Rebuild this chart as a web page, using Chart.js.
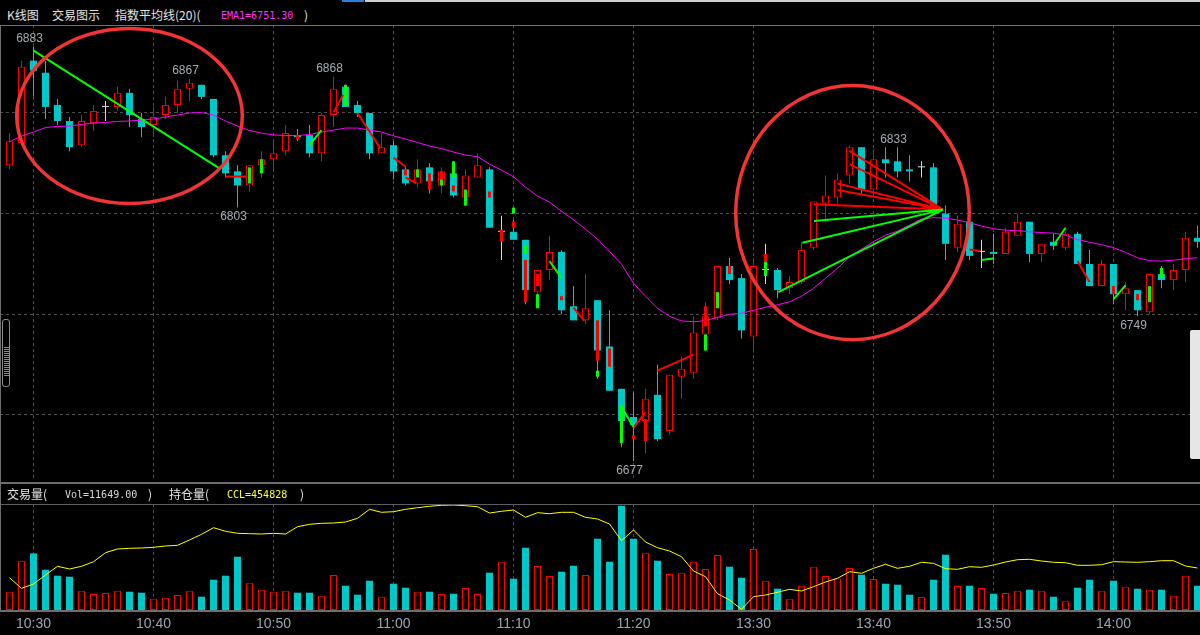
<!DOCTYPE html>
<html>
<head>
<meta charset="utf-8">
<script src="https://cdn.jsdelivr.net/npm/chart.js@4.4.0/dist/chart.umd.min.js"></script>
<style>
  body { margin: 0; background: #000; width: 1200px; height: 635px; overflow: hidden; position: relative; font-family: "Noto Sans CJK SC", sans-serif; }
  .t { position: absolute; font-size: 12px; color: #e4e4e4; line-height: 14px; white-space: pre; }
  .m { font-family: "DejaVu Sans Mono", monospace; font-size: 10px; }
  .ln { position: absolute; left: 0; width: 1200px; }
  canvas { position: absolute; left: 0; }
</style>
</head>
<body>
<canvas id="main" width="1200" height="456" style="top:25px"></canvas>
<canvas id="vol" width="1200" height="131" style="top:504px"></canvas>

<div class="ln" style="top:0;left:365px;width:835px;height:2px;background:#cfcfcf"></div>
<div class="ln" style="top:0;left:342px;width:22px;height:2px;background:#2a7fd8"></div>
<div class="ln" style="top:25px;height:1px;background:#6e6e6e"></div>
<div class="ln" style="top:482px;height:2px;background:#6e6e6e"></div>
<div class="ln" style="top:504px;height:1px;background:#5e5e5e"></div>
<div class="ln" style="top:610px;height:2px;background:#6e6e6e"></div>
<div style="position:absolute;left:0;top:25px;width:1px;height:587px;background:#6e6e6e"></div>
<div style="position:absolute;left:2px;top:319px;width:6px;height:66px;border:1px solid #8a8a8a;border-radius:3px;background:#000"></div>
<div style="position:absolute;left:4px;top:347px;width:5px;height:30px;background:repeating-linear-gradient(#19d24a 0 1px,#000 1px 2px)"></div>
<div style="position:absolute;left:1190px;top:330px;width:12px;height:129px;background:#e6e6e6;border-radius:2px"></div>

<div class="t" style="left:7px;top:8px">K线图</div>
<div class="t" style="left:52px;top:8px">交易图示</div>
<div class="t" style="left:115px;top:8px">指数平均线(20)(</div>
<div class="t m" style="left:221px;top:9px;color:#ff30ff">EMA1=6751.30</div>
<div class="t" style="left:304px;top:8px">)</div>

<div class="t" style="left:7px;top:487px">交易量(</div>
<div class="t m" style="left:65px;top:488px;color:#d8d8d8">Vol=11649.00</div>
<div class="t" style="left:148px;top:487px">)</div>
<div class="t" style="left:169px;top:487px">持仓量(</div>
<div class="t m" style="left:227px;top:488px;color:#ffff30">CCL=454828</div>
<div class="t" style="left:300px;top:487px">)</div>

<script>
// one-minute bars
const opens = [6824,6835,6876,6870,6854,6846,6834,6845,6853,6853, 6860,6847,6844,6849,6854,6862,6864,6857,6829,6821,
  6814,6824,6827,6831,6839,6839,6830,6849,6863,6854, 6850,6830,6834,6822,6815,6823,6814,6820,6808,6818,
  6822,6791,6791,6787,6761,6772,6781,6754,6747,6757, 6734,6713,6699,6697,6710,6692,6719,6721,6740,6748,
  6774,6768,6739,6772,6772,6763,6766,6783,6805,6808, 6819,6833,6812,6827,6826,6822,6823,6823,6800,6783,
  6796,6781,6781,6780,6789,6796,6780,6786,6783,6790, 6775,6764,6775,6760,6762,6751,6770,6767,6772,6788];
const highs = [6840,6876,6883,6876,6857,6848,6849,6854,6856,6863, 6862,6850,6853,6858,6866,6867,6864,6857,6831,6824,
  6824,6831,6837,6844,6842,6844,6850,6868,6864,6856, 6850,6840,6836,6823,6827,6825,6823,6826,6822,6830,
  6823,6799,6797,6787,6772,6789,6782,6764,6770,6757, 6752,6713,6711,6713,6725,6720,6729,6749,6756,6774,
  6778,6770,6778,6785,6773,6769,6786,6806,6819,6820, 6834,6833,6832,6833,6833,6829,6826,6825,6804,6799,
  6799,6787,6790,6793,6800,6796,6785,6790,6791,6791, 6782,6777,6775,6766,6762,6770,6774,6775,6791,6794];
const lows = [6822,6834,6858,6847,6844,6831,6833,6841,6846,6851, 6843,6838,6838,6847,6850,6856,6857,6828,6818,6803,
  6811,6818,6822,6829,6836,6828,6826,6843,6853,6848, 6827,6830,6817,6814,6813,6810,6810,6808,6804,6818,
  6793,6777,6787,6755,6753,6767,6750,6747,6745,6718, 6712,6684,6677,6681,6687,6690,6708,6718,6732,6747,
  6765,6738,6731,6765,6758,6760,6765,6782,6797,6805, 6815,6810,6809,6818,6818,6816,6818,6800,6777,6781,
  6777,6773,6775,6780,6789,6776,6776,6782,6782,6775, 6764,6764,6755,6752,6749,6750,6763,6762,6766,6783];
const closes = [6836,6873,6871,6853,6846,6833,6846,6851,6853,6860, 6849,6843,6848,6854,6862,6865,6858,6829,6820,6814,
  6824,6827,6830,6840,6838,6830,6849,6862,6853,6850, 6830,6833,6821,6815,6822,6816,6821,6809,6819,6824,
  6793,6791,6787,6762,6772,6781,6752,6747,6753,6732, 6712,6697,6695,6708,6688,6720,6723,6741,6749,6774,
  6767,6742,6774,6772,6762,6766,6782,6806,6809,6817, 6833,6812,6827,6825,6821,6821,6823,6804,6785,6795,
  6779,6781,6780,6791,6796,6780,6785,6784,6790,6775, 6764,6775,6760,6763,6752,6770,6767,6772,6788,6786];
const ema20 = [6835.7,6838.6,6840.5,6842.8,6843.3,6843.5,6844.3,6845.0,6845.3,6845.8, 6846.0,6846.5,6847.0,6848.0,6849.0,6850.0,6850.2,6849.0,6846.0,6843.5,
  6841.3,6840.0,6839.1,6838.8,6838.8,6839.3,6840.5,6841.5,6842.5,6842.5, 6841.5,6840.5,6838.6,6837.1,6835.3,6833.6,6832.3,6830.6,6829.1,6828.3,
  6824.6,6821.6,6818.3,6813.2,6808.7,6805.7,6801.2,6797.0,6792.3,6787.3, 6781.3,6774.9,6765.4,6759.0,6753.0,6749.0,6746.7,6746.3,6746.8,6748.5,
  6750.0,6750.5,6752.0,6753.5,6754.7,6756.2,6759.0,6762.9,6767.9,6772.9, 6778.4,6782.3,6786.1,6789.3,6791.3,6794.3,6797.3,6798.0,6797.8,6796.8,
  6795.5,6793.8,6792.5,6791.8,6791.5,6791.0,6790.6,6790.3,6789.3,6787.1, 6785.8,6784.6,6783.1,6780.8,6778.1,6776.6,6776.4,6776.9,6777.6,6778.1];
const volumes = [8780,23660,27170,19340,16460,15980,9260,7680,8160,9260, 8780,8300,5420,5900,7200,9260,6380,14540,16460,25580,
  13100,9740,8780,9260,8300,8300,6860,16800,11660,7340, 14060,6380,12620,10700,8780,8780,7680,7820,10560,7680,
  17900,23180,15020,29900,21120,16320,18380,21260,16800,34220, 23180,50060,34220,27500,23660,17280,17900,23180,19680,26400,
  20780,15500,29280,14060,10220,5420,11660,20780,16320,15170, 20160,16940,14880,12620,12140,7340,6240,14540,26540,11520,
  11660,10560,7820,8160,9260,9740,9260,6380,4460,10700, 14540,9260,14060,11180,10220,9740,9740,6860,16460,11649];
const openInterest = [453858,452798,453228,454128,454998,454728,454998,455458,456358,456728, 456798,456828,456898,457028,457098,457628,458198,458858,458498,458298,
  458258,458228,458298,458228,458958,459198,459298,459328,459428,459798, 460698,460398,460458,460698,460858,460998,461098,461128,461058,460958,
  460328,460498,460628,459898,460358,460258,460398,460398,459898,459728, 459228,457558,458628,457428,456858,456528,455958,454528,453958,452258,
  451628,450698,451958,452128,452398,452698,452528,452958,453428,453798, 454458,454298,454798,455198,454798,454998,455398,455298,454758,454698,
  454958,454898,455128,455428,455658,455698,455528,455398,455358,455098, 455098,455158,455458,455428,455398,455458,455558,455558,455028,454828];

const tickIdx = [2,12,22,32,42,52,62,72,82,92];
const tickLabels = ['10:30','10:40','10:50','11:00','11:10','11:20','13:30','13:40','13:50','14:00'];
const gridPrices = [6700,6750,6800,6850];

// trade marks: [bar, low, high] short bars inside candles
const greenTicks = [[20,6815,6823],[21,6820,6827],[28,6854,6864],[34,6818,6822],[36,6814,6817],[37,6818,6826],[38,6804,6812],
  [42,6800,6803],[43,6780,6784],[44,6753,6760],[49,6719,6722],[51,6686,6705],[58,6732,6740],[59,6753,6761],[63,6769,6776],[95,6756,6764],[96,6768,6773]];
const redTicks = [[24,6837,6839],[33,6819,6822],[35,6812,6820],[36,6817,6821],[37,6811,6814],[40,6808,6811],[41,6786,6792],[42,6793,6796],
  [43,6756,6777],[44,6764,6770],[46,6757,6759],[49,6727,6747],[50,6724,6733],[52,6688,6690],[53,6687,6698],[58,6744,6754],[60,6770,6774],[63,6776,6780],[92,6760,6764],[94,6757,6760]];
// trade links: [bar1, price1, bar2, price2]
const greenLinks = [[2,6881,17.5,6822.5],[25,6834,26,6841.5],[45,6776.5,46,6768],[51,6704,52,6694],[64.07,6761,77.8,6802],
  [66.07,6785.5,77.8,6802],[67.04,6796.4,77.8,6802],[81,6777,82,6777.7],[87,6784.3,88,6793],[92,6757.5,93,6764.4]];
const redLinks = [[18,6818.5,19.8,6818.5],[27,6850.3,27.8,6859],[29,6850,30.9,6832.4],[32,6827.8,33,6823.3],[33,6818,33.9,6815],
  [47,6753.3,47.9,6746.7],[52,6693.6,53,6701.4],[54,6722,57,6730],[80,6782.2,80.9,6781.5],[89,6776.5,90,6766],
  [70,6831.2,77.8,6802],[70,6824.6,77.8,6802],[69,6815,77.8,6802],[69,6811.7,77.8,6802],[67,6804.7,77.8,6802]];
// hand-drawn rings: [centre bar, centre price, radius in bars, radius in price]
const rings = [[10.0,6848.5,9.4,43.5],[70.25,6800.5,9.73,63.1]];
const highMarks = [2,15,27,74];
const lowMarks = [19,52,94];

const RED = '#ff0000', CYAN = '#00c8c8', DOJI = '#d8d8d8';
const X_MIN = -0.7917, X_MAX = 99.2083;

const bars = opens.map((o, i) => i);
const dir = i => closes[i] > opens[i] ? 1 : (closes[i] < opens[i] ? -1 : 0);
const candleColor = i => dir(i) > 0 ? RED : (dir(i) < 0 ? CYAN : DOJI);
const linkData = segs => segs.flatMap(([x1, y1, x2, y2]) => [{x: x1, y: y1}, {x: x2, y: y2}, {x: x2, y: null}]);

const xScale = (showLabels) => ({
  type: 'linear', min: X_MIN, max: X_MAX, offset: false,
  grid: {color: '#4e4e4e', drawTicks: false, offset: false},
  border: {display: false, dash: [3, 3]},
  ticks: {display: showLabels, autoSkip: false, maxRotation: 0, padding: 6, color: '#9ca6b2',
    font: {family: 'Liberation Sans', size: 14}, callback: (v, idx) => tickLabels[idx]},
  afterBuildTicks: s => { s.ticks = tickIdx.map(v => ({value: v})); },
  afterFit: s => { s.height = showLabels ? 25 : 0; }
});

const overlay = {
  id: 'overlay',
  afterDatasetsDraw(chart) {
    const {ctx, scales: {x, y}} = chart;
    ctx.save();
    ctx.font = '12px "Liberation Sans"';
    ctx.fillStyle = '#a6abb2';
    ctx.textAlign = 'center';
    highMarks.forEach(i => ctx.fillText(String(highs[i]), x.getPixelForValue(i) - 4, y.getPixelForValue(highs[i]) - 4.5));
    lowMarks.forEach(i => ctx.fillText(String(lows[i]), x.getPixelForValue(i) - 4, y.getPixelForValue(lows[i]) + 12.5));
    ctx.strokeStyle = '#f23434';
    ctx.lineWidth = 3.5;
    rings.forEach(([cx, cy, rx, ry]) => {
      const px = x.getPixelForValue(cx), py = y.getPixelForValue(cy);
      ctx.beginPath();
      ctx.ellipse(px, py, x.getPixelForValue(cx + rx) - px, py - y.getPixelForValue(cy + ry), 0, 0, Math.PI * 2);
      ctx.stroke();
    });
    ctx.restore();
  }
};

const common = {
  responsive: false, animation: false, events: [],
  layout: {padding: 0},
  plugins: {legend: {display: false}, tooltip: {enabled: false}}
};

new Chart(document.getElementById('main'), {
  type: 'bar',
  data: {
    datasets: [
      { label: 'wick', order: 5, grouped: false, barThickness: 1, inflateAmount: 0,
        data: bars.map(i => ({x: i, y: [lows[i], highs[i]]})),
        backgroundColor: bars.map(candleColor) },
      { label: 'body', order: 4, grouped: false, barThickness: 7, inflateAmount: 0, minBarLength: 1, borderSkipped: false,
        data: bars.map(i => ({x: i, y: [opens[i], closes[i]]})),
        backgroundColor: bars.map(i => dir(i) > 0 ? '#000' : candleColor(i)),
        borderColor: bars.map(candleColor),
        borderWidth: bars.map(i => dir(i) > 0 ? 1 : 0) },
      { label: 'EMA', type: 'line', order: 3, data: bars.map(i => ({x: i, y: ema20[i]})),
        borderColor: '#ff00ff', borderWidth: 1, pointRadius: 0, tension: 0 },
      { label: 'buyTicks', order: 2, grouped: false, barThickness: 3, inflateAmount: 0,
        data: greenTicks.map(([i, lo, hi]) => ({x: i, y: [lo, hi]})), backgroundColor: '#00ff00' },
      { label: 'sellTicks', order: 2, grouped: false, barThickness: 3, inflateAmount: 0,
        data: redTicks.map(([i, lo, hi]) => ({x: i, y: [lo, hi]})), backgroundColor: RED },
      { label: 'buyLinks', type: 'line', order: 1, data: linkData(greenLinks), spanGaps: false,
        borderColor: '#00ff00', borderWidth: 2, pointRadius: 0 },
      { label: 'sellLinks', type: 'line', order: 1, data: linkData(redLinks), spanGaps: false,
        borderColor: RED, borderWidth: 2, pointRadius: 0 }
    ]
  },
  options: Object.assign({}, common, {
    scales: {
      x: xScale(false),
      y: { min: 6667.2, max: 6893.7,
        grid: {color: '#4e4e4e', drawTicks: false},
        border: {display: false, dash: [3, 3]},
        ticks: {display: false},
        afterBuildTicks: s => { s.ticks = gridPrices.map(v => ({value: v})); },
        afterFit: s => { s.width = 0; } }
    }
  }),
  plugins: [overlay]
});

new Chart(document.getElementById('vol'), {
  type: 'bar',
  data: {
    datasets: [
      { label: 'Vol', order: 2, grouped: false, barThickness: 7, inflateAmount: 0, borderSkipped: false,
        data: bars.map(i => ({x: i, y: volumes[i]})),
        backgroundColor: bars.map(i => dir(i) < 0 ? CYAN : '#000'),
        borderColor: bars.map(i => dir(i) < 0 ? CYAN : RED),
        borderWidth: bars.map(i => dir(i) < 0 ? 0 : 1) },
      { label: 'CCL', type: 'line', order: 1, yAxisID: 'y2',
        data: bars.map(i => ({x: i, y: openInterest[i]})),
        borderColor: '#ffff00', borderWidth: 1, pointRadius: 0, tension: 0 }
    ]
  },
  options: Object.assign({}, common, {
    scales: {
      x: xScale(true),
      y: { min: 0, max: 50880, display: true, grid: {display: false}, border: {display: false},
        ticks: {display: false}, afterFit: s => { s.width = 0; } },
      y2: { min: 450628, max: 461228, position: 'right', display: true, grid: {display: false}, border: {display: false},
        ticks: {display: false}, afterFit: s => { s.width = 0; } }
    }
  })
});
</script>
</body>
</html>
